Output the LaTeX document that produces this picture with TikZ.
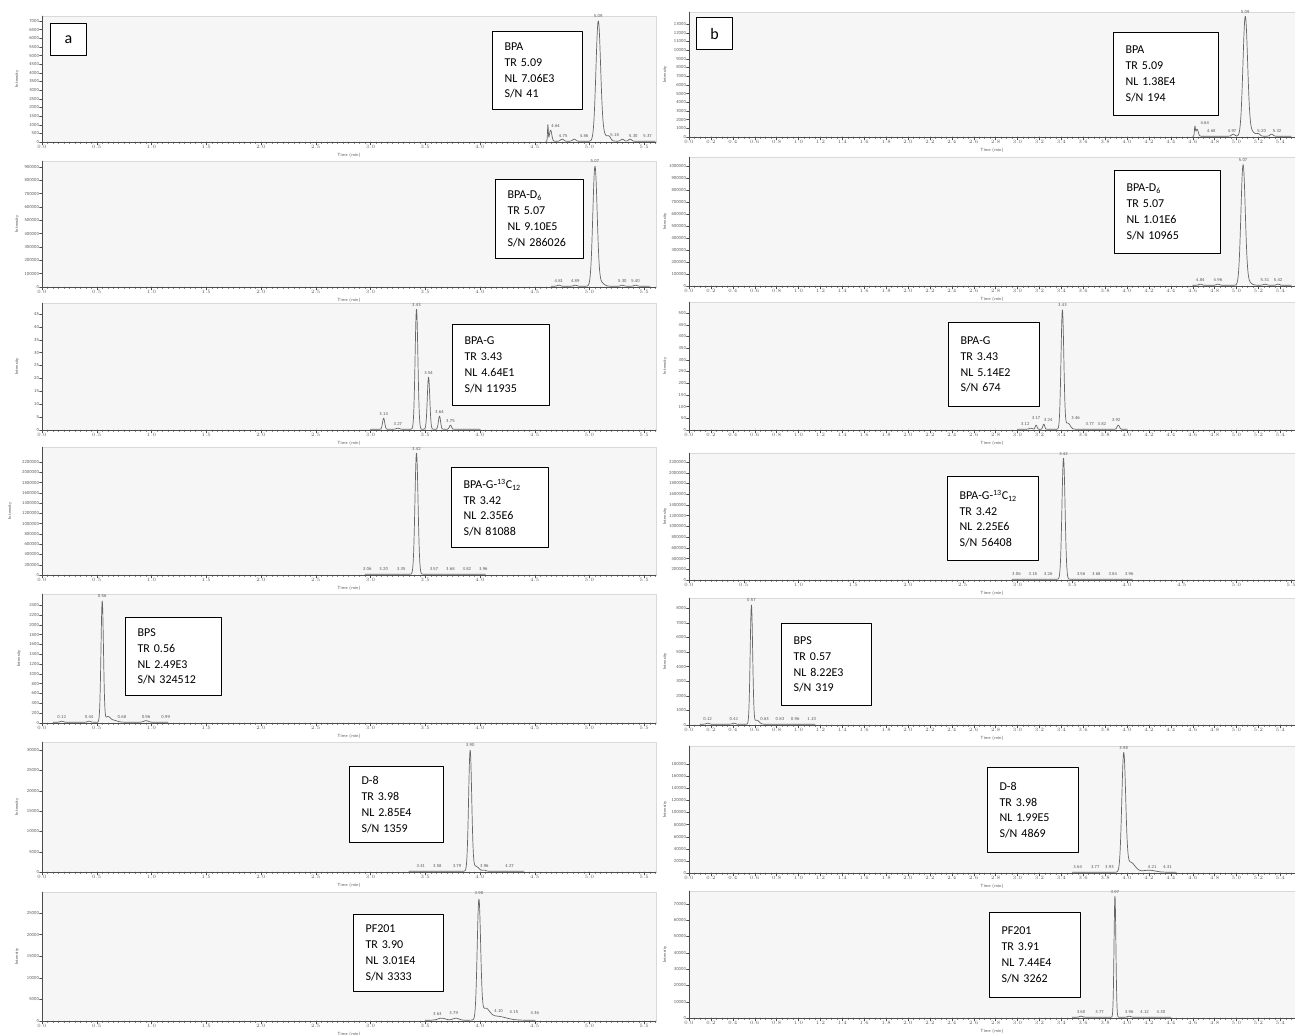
\documentclass[tikz,border=0pt]{standalone}
\usepackage{fontspec}
\newfontfamily\calib{Carlito}
\tikzset{
	plotbg/.style={fill=gray!7,draw=gray!30,line width=0.4pt},
	axisline/.style={gray!60!black,line width=0.4pt},
	trace/.style={black!60,line width=0.7pt},
	ticklabel/.style={font=\sffamily\fontsize{4.5}{5}\selectfont,text=gray!70!black,inner sep=0.4pt},
	labelbox/.style={draw,line width=1.1pt,fill=white,anchor=north west,align=left,inner xsep=12pt,inner ysep=0pt,font=\calib\fontsize{12}{15.8}\selectfont},
	letterbox/.style={draw,line width=1.1pt,fill=white,anchor=north west,minimum width=36pt,minimum height=32pt,font=\calib\fontsize{16}{16}\selectfont}
}
% frame and time axis: x0, ytop, ybase, xright, step, count
\newcommand{\chromaxes}[6]{
	\fill[plotbg] (#1,#2) rectangle (#4,#3);
	\foreach \i in {0,...,112}{
		\pgfmathsetmacro\xm{#1+5.475*\i}
		\ifdim\xm pt<#4pt \draw[axisline] (\xm,#3) -- ++(0,1.5);\fi
	}
	\foreach \i in {0,...,#6}{
		\pgfmathsetmacro\tm{\i*#5}
		\draw[axisline] ({#1+109.5*\tm},#3) -- ++(0,3) node[below,ticklabel]{\pgfmathprintnumber[fixed,fixed zerofill,precision=1]{\tm}};
	}
	\draw[axisline] (#1,#2) -- (#1,#3) -- (#4,#3);
	\node[ticklabel] at ({(#1+#4)/2},#3+13) {Time (min)};
}
% intensity axis: x0, ytop, ybase, spacing, labels, x of title
\newcommand{\yticks}[6]{
	\foreach \v [count=\j from 0] in {#5}
		\draw[axisline] (#1,{#3-\j*#4}) -- ++(-2.5,0) node[left,ticklabel]{\v};
	\node[ticklabel,rotate=90] at (#6,{(#2+#3)/2}) {Intensity};
}
% trace as a sum of peaks: x0, ybase, from, to, centre/height/width
\newcommand{\peaks}[5]{
	\gdef\traceexpr{0}
	\foreach \pc/\ph/\pw in {#5}{
		\xdef\traceexpr{\unexpanded\expandafter{\traceexpr}+\ph*exp(-min(abs(\noexpand\x-\pc)/\pw,8)*min(abs(\noexpand\x-\pc)/\pw,8))}
	}
	\draw[trace] plot[domain=#3:#4,samples=600] ({#1+109.5*\x},{#2-0.8-(\traceexpr)});
}
% peak labels: x0, ybase, position/height/text
\newcommand{\plabels}[3]{
	\foreach \pp/\ph/\pl in {#3}
		\node[ticklabel,anchor=south] at ({#1+109.5*\pp},{#2-1-\ph}) {\pl};
}
\begin{document}
\begin{tikzpicture}[x=1pt,y=-1pt,line join=round,line cap=round]
\useasboundingbox (0,0) rectangle (1295,1035);
% ---------- column a ----------
\chromaxes{42}{16}{142}{656}{0.5}{11}
\yticks{42}{16}{142}{8.64}{0,500,1000,1500,2000,2500,3000,3500,4000,4500,5000,5500,6000,6500,7000}{17}
\peaks{42}{142}{4.6}{5.6}{5.08/118/0.03,5.13/6/0.05,4.62/16/0.005,4.645/11/0.015,4.75/2/0.02,4.86/2/0.02,5.18/3/0.02,5.30/2/0.02,5.37/2/0.02}
\plabels{42}{142}{5.08/123/5.09,4.69/13/4.64,4.76/3/4.75,4.95/3/4.86,5.23/4/5.18,5.40/3/5.30,5.53/3/5.37}
\node[letterbox] (lettera) at (50,23) {a};
\node[labelbox,text width=66pt,minimum height=78pt] (bpaA) at (492,31) {BPA\\TR 5.09\\NL 7.06E3\\S/N 41};

\chromaxes{42}{161}{287}{656}{0.5}{11}
\yticks{42}{161}{287}{13.33}{0,100000,200000,300000,400000,500000,600000,700000,800000,900000}{17}
\peaks{42}{287}{4.65}{5.55}{5.05/119/0.028,5.1/4/0.04,4.72/1/0.02,4.87/1/0.02,5.30/1/0.02,5.42/1/0.02}
\plabels{42}{287}{5.05/123/5.07,4.72/3/4.81,4.87/3/4.89,5.30/3/5.30,5.42/3/5.40}
\node[labelbox,text width=64pt,minimum height=79pt] (bpadA) at (495,179) {BPA-D\textsubscript{6}\\TR 5.07\\NL 9.10E5\\S/N 286026};

\chromaxes{42}{303}{430}{656}{0.5}{11}
\yticks{42}{303}{430}{12.9}{0,5,10,15,20,25,30,35,40,45}{17}
\peaks{42}{430}{3.0}{4.0}{3.42/120/0.018,3.53/52/0.016,3.63/13/0.014,3.12/11/0.014,3.73/4/0.014,3.25/1/0.02}
\plabels{42}{430}{3.42/122/3.43,3.53/54/3.54,3.63/15/3.64,3.12/13/3.14,3.25/3/3.27,3.73/6/3.75}
\node[labelbox,text width=73pt,minimum height=81pt] (bpagA) at (452,324) {BPA-G\\TR 3.43\\NL 4.64E1\\S/N 11935};

\chromaxes{42}{447}{575}{656}{0.5}{11}
\yticks{42}{447}{575}{10.27}{0,200000,400000,600000,800000,1000000,1200000,1400000,1600000,1800000,2000000,2200000}{10}
\peaks{42}{575}{2.95}{4.05}{3.42/121/0.02}
\plabels{42}{575}{3.42/123/3.42,2.97/3/3.06,3.12/3/3.20,3.28/3/3.35,3.58/3/3.57,3.73/3/3.68,3.88/3/3.82,4.03/3/3.96}
\node[labelbox,text width=73pt,minimum height=80pt] (bpacA) at (451,467) {BPA-G-\textsuperscript{13}C\textsubscript{12}\\TR 3.42\\NL 2.35E6\\S/N 81088};

\chromaxes{42}{594}{723}{656}{0.5}{11}
\yticks{42}{594}{723}{9.83}{0,200,400,600,800,1000,1200,1400,1600,1800,2000,2200,2400}{19}
\peaks{42}{723}{0.1}{1.15}{0.55/121/0.016,0.6/5/0.03,0.65/2/0.05,0.18/1/0.02,0.43/1/0.02,0.95/1.5/0.03}
\plabels{42}{723}{0.55/124/0.56,0.18/3/0.12,0.43/3/0.44,0.73/3/0.68,0.95/3/0.96,1.13/3/0.99}
\node[labelbox,text width=72pt,minimum height=78pt] (bpsA) at (125,617) {BPS\\TR 0.56\\NL 2.49E3\\S/N 324512};

\chromaxes{42}{742}{872}{656}{0.5}{11}
\yticks{42}{742}{872}{20.3}{0,5000,10000,15000,20000,25000,30000}{17}
\peaks{42}{872}{3.35}{4.4}{3.91/120/0.02,3.96/5/0.04,4.04/1/0.02}
\plabels{42}{872}{3.91/124/3.90,3.46/3/3.41,3.61/3/3.58,3.79/3/3.79,4.04/3/3.96,4.27/3/4.27}
\node[labelbox,text width=70pt,minimum height=76pt] (deA) at (349,766) {D-8\\TR 3.98\\NL 2.85E4\\S/N 1359};

\chromaxes{42}{892}{1021}{656}{0.5}{11}
\yticks{42}{892}{1021}{21.6}{0,5000,10000,15000,20000,25000}{17}
\peaks{42}{1021}{3.5}{4.5}{3.99/118/0.022,4.05/10/0.05,4.15/4/0.12,3.65/2/0.05,3.78/2/0.04}
\plabels{42}{1021}{3.99/125/3.98,3.61/4/3.63,3.76/5/3.79,4.17/7/4.10,4.31/6/4.15,4.50/5/4.36}
\node[labelbox,text width=66pt,minimum height=77pt] (pfA) at (353,914) {PF201\\TR 3.90\\NL 3.01E4\\S/N 3333};

% ---------- column b ----------
\chromaxes{689}{12}{137}{1295}{0.2}{27}
\yticks{689}{12}{137}{8.69}{0,1000,2000,3000,4000,5000,6000,7000,8000,9000,10000,11000,12000,13000}{665}
\peaks{689}{137}{4.6}{5.5}{5.08/118/0.03,5.13/5/0.05,4.62/9/0.006,4.64/7/0.015,4.97/2/0.02,5.20/2/0.02,5.32/2/0.02}
\plabels{689}{137}{5.08/122/5.09,4.71/11/4.64,4.77/3/4.68,4.96/3/4.97,5.23/3/5.20,5.37/3/5.32}
\node[letterbox] (letterb) at (696,17) {b};
\node[labelbox,text width=81pt,minimum height=83pt] (bpaB) at (1113,32) {BPA\\TR 5.09\\NL 1.38E4\\S/N 194};

\chromaxes{689}{157}{286}{1295}{0.2}{27}
\yticks{689}{157}{286}{12}{0,100000,200000,300000,400000,500000,600000,700000,800000,900000,1000000}{665}
\peaks{689}{286}{4.6}{5.5}{5.06/119/0.028,5.1/4/0.04,4.67/1/0.02,4.83/1/0.02,5.26/1/0.02,5.38/1/0.02}
\plabels{689}{286}{5.06/123/5.07,4.67/3/4.84,4.83/3/4.96,5.26/3/5.31,5.38/3/5.42}
\node[labelbox,text width=82pt,minimum height=83pt] (bpadB) at (1114,170) {BPA-D\textsubscript{6}\\TR 5.07\\NL 1.01E6\\S/N 10965};

\chromaxes{689}{302}{430}{1295}{0.2}{27}
\yticks{689}{302}{430}{11.7}{0,50,100,150,200,250,300,350,400,450,500}{665}
\peaks{689}{430}{3.0}{4.0}{3.41/119/0.018,3.46/6/0.03,3.17/4/0.012,3.24/5/0.012,3.92/4/0.015,3.12/1/0.02}
\plabels{689}{430}{3.41/122/3.43,3.07/3/3.12,3.17/9/3.17,3.28/7/3.24,3.53/9/3.46,3.66/3/3.77,3.77/3/3.82,3.90/7/3.92}
\node[labelbox,text width=67pt,minimum height=84pt] (bpagB) at (948,322) {BPA-G\\TR 3.43\\NL 5.14E2\\S/N 674};

\chromaxes{689}{453}{580}{1295}{0.5}{11}
\yticks{689}{453}{580}{10.73}{0,200000,400000,600000,800000,1000000,1200000,1400000,1600000,1800000,2000000,2200000}{665}
\peaks{689}{580}{2.95}{4.05}{3.42/121/0.02}
\plabels{689}{580}{3.42/123/3.42,2.99/3/3.06,3.14/3/3.18,3.28/3/3.26,3.58/3/3.56,3.72/3/3.68,3.87/3/3.84,4.02/3/3.96}
\node[labelbox,text width=67pt,minimum height=84pt] (bpacB) at (947,476) {BPA-G-\textsuperscript{13}C\textsubscript{12}\\TR 3.42\\NL 2.25E6\\S/N 56408};

\chromaxes{689}{598}{725}{1295}{0.2}{27}
\yticks{689}{598}{725}{14.6}{0,1000,2000,3000,4000,5000,6000,7000,8000}{665}
\peaks{689}{725}{0.1}{1.15}{0.57/119/0.016,0.62/4/0.03,0.17/1/0.02,0.41/1/0.02}
\plabels{689}{725}{0.57/122/0.57,0.17/3/0.12,0.41/3/0.41,0.69/3/0.63,0.83/3/0.83,0.97/3/0.96,1.12/3/1.10}
\node[labelbox,text width=66pt,minimum height=82pt] (bpsB) at (781,623) {BPS\\TR 0.57\\NL 8.22E3\\S/N 319};

\chromaxes{689}{746}{873}{1295}{0.2}{27}
\yticks{689}{746}{873}{12.1}{0,20000,40000,60000,80000,100000,120000,140000,160000,180000}{665}
\peaks{689}{873}{3.5}{4.45}{3.97/116/0.025,4.03/10/0.06,4.2/2/0.08}
\plabels{689}{873}{3.97/122/3.98,3.55/3/3.64,3.71/3/3.77,3.84/3/3.93,4.23/3/4.21,4.37/3/4.31}
\node[labelbox,text width=67pt,minimum height=85pt] (deB) at (987,767) {D-8\\TR 3.98\\NL 1.99E5\\S/N 4869};

\chromaxes{689}{891}{1018}{1295}{0.2}{27}
\yticks{689}{891}{1018}{16.3}{0,10000,20000,30000,40000,50000,60000,70000}{665}
\peaks{689}{1018}{3.5}{4.4}{3.89/121/0.012,3.58/1/0.02,4.02/1/0.02}
\plabels{689}{1018}{3.89/123/3.97,3.58/3/3.60,3.75/3/3.77,4.02/3/3.96,4.16/3/4.12,4.31/3/4.30}
\node[labelbox,text width=67pt,minimum height=85pt] (pfB) at (989,912) {PF201\\TR 3.91\\NL 7.44E4\\S/N 3262};
\end{tikzpicture}
\end{document}
